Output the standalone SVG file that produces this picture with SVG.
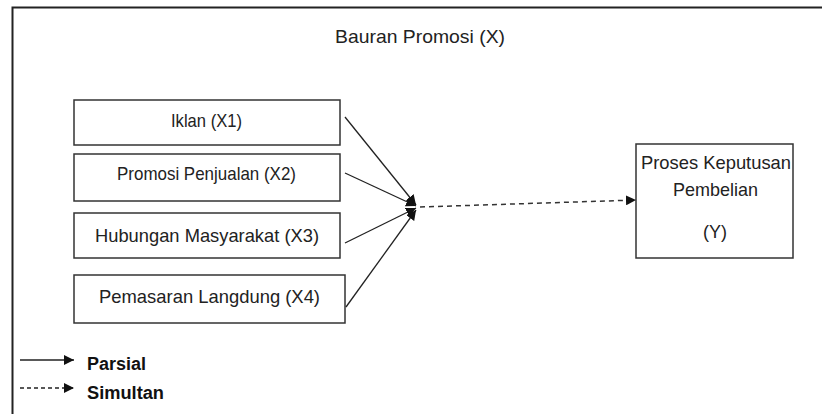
<svg xmlns="http://www.w3.org/2000/svg" width="822" height="414" viewBox="0 0 822 414">
<defs>
<marker id="ah" viewBox="0 0 10 10" refX="10" refY="5" markerWidth="10" markerHeight="10" markerUnits="userSpaceOnUse" orient="auto">
<path d="M0,0 L10,5 L0,10 z" fill="#111"/>
</marker>
</defs>
<style>
.box{fill:#fff;stroke:#333;stroke-width:1.5}
.t{font-family:"Liberation Sans",Arial,sans-serif;font-size:19px;fill:#222;text-anchor:middle}
.lg{font-family:"Liberation Sans",Arial,sans-serif;font-size:18px;font-weight:bold;fill:#111}
.c{stroke:#222;stroke-width:1.3;fill:none}
.d{stroke:#333;stroke-width:1.5;fill:none;stroke-dasharray:5,4}
</style>
<rect width="822" height="414" fill="#fff"/>
<rect id="frame" x="12.5" y="7.5" width="830" height="430" fill="none" stroke="#222" stroke-width="2"/>
<text class="t" x="420" y="43" textLength="170" lengthAdjust="spacingAndGlyphs">Bauran Promosi (X)</text>
<g id="x1"><rect class="box" x="74" y="100" width="266" height="45"/><text class="t" x="206.5" y="127" textLength="71" lengthAdjust="spacingAndGlyphs">Iklan (X1)</text></g>
<g id="x2"><rect class="box" x="74" y="154" width="266" height="47"/><text class="t" x="206.5" y="180" textLength="179" lengthAdjust="spacingAndGlyphs">Promosi Penjualan (X2)</text></g>
<g id="x3"><rect class="box" x="74" y="213" width="266" height="45"/><text class="t" x="207" y="242" textLength="224" lengthAdjust="spacingAndGlyphs">Hubungan Masyarakat (X3)</text></g>
<g id="x4"><rect class="box" x="74" y="275" width="271" height="48"/><text class="t" x="209.5" y="303" textLength="221" lengthAdjust="spacingAndGlyphs">Pemasaran Langdung (X4)</text></g>
<g id="y"><rect class="box" x="636" y="144" width="157" height="114"/>
<text class="t" x="716" y="169" textLength="150" lengthAdjust="spacingAndGlyphs">Proses Keputusan</text>
<text class="t" x="715.5" y="196" textLength="85" lengthAdjust="spacingAndGlyphs">Pembelian</text>
<text class="t" x="715" y="238" textLength="24" lengthAdjust="spacingAndGlyphs">(Y)</text></g>
<g id="connectors">
<line class="c" x1="345" y1="117" x2="416" y2="205" marker-end="url(#ah)"/>
<line class="c" x1="345" y1="173" x2="416" y2="206" marker-end="url(#ah)"/>
<line class="c" x1="345" y1="243" x2="416" y2="208" marker-end="url(#ah)"/>
<line class="c" x1="346" y1="307" x2="416" y2="210" marker-end="url(#ah)"/>
<line class="d" x1="420" y1="207" x2="636" y2="200" marker-end="url(#ah)"/>
</g>
<g id="legend">
<line class="c" x1="20" y1="360" x2="74" y2="360" marker-end="url(#ah)"/>
<text class="lg" x="87" y="370" textLength="59" lengthAdjust="spacingAndGlyphs">Parsial</text>
<line class="c" x1="20" y1="388" x2="74" y2="388" stroke-dasharray="4,3" marker-end="url(#ah)"/>
<text class="lg" x="87" y="399" textLength="77" lengthAdjust="spacingAndGlyphs">Simultan</text>
</g>
</svg>
